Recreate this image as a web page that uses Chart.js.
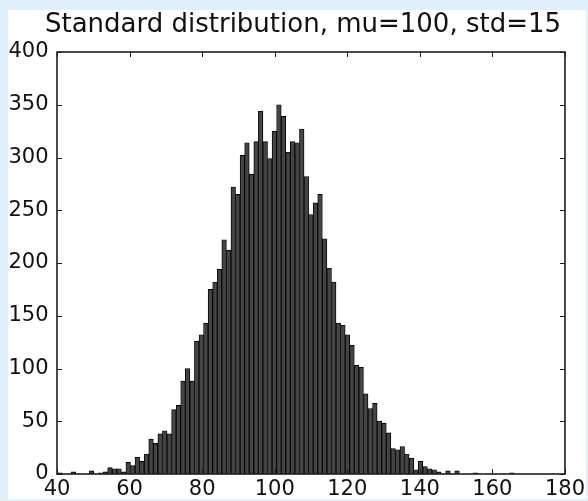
<!DOCTYPE html>
<html>
<head>
<meta charset="utf-8">
<script src="https://cdn.jsdelivr.net/npm/chart.js@4.4.1/dist/chart.umd.min.js"></script>
<style>
  html, body { margin: 0; padding: 0; background: #dff0fa; }
  canvas { display: block; }
</style>
</head>
<body>
<canvas id="hist" width="588" height="501"></canvas>
<script>
// Histogram of 10000 samples, mu=100, std=15, 100 equal bins
const titleText = 'Standard distribution, mu=100, std=15';
const histRange = [40.11, 166.0];          // lowest and highest sample
const binCounts = [
  1, 0, 0, 2, 0, 0, 0, 3, 0, 1,
  2, 6, 5, 5, 2, 11, 8, 16, 12, 19,
  33, 29, 38, 41, 38, 61, 65, 88, 100, 88,
  126, 132, 143, 175, 182, 194, 222, 212, 272, 265,
  302, 314, 284, 315, 344, 315, 299, 325, 350, 339,
  305, 315, 314, 327, 282, 246, 257, 265, 223, 195,
  182, 143, 141, 132, 122, 103, 101, 76, 62, 67,
  50, 48, 39, 24, 23, 26, 19, 15, 4, 12,
  7, 5, 4, 2, 0, 3, 0, 3, 0, 0,
  0, 1, 0, 0, 0, 0, 0, 0, 0, 1
];
const xTicks = [40, 60, 80, 100, 120, 140, 160, 180];
const yTicks = [0, 50, 100, 150, 200, 250, 300, 350, 400];

const binWidth = (histRange[1] - histRange[0]) / binCounts.length;
const points = binCounts.map((c, i) => ({ x: histRange[0] + (i + 0.5) * binWidth, y: c }));

Chart.defaults.font.family = '"DejaVu Sans", sans-serif';
Chart.defaults.color = '#111';

// white figure panel on the pale blue page
const panel = {
  id: 'panel',
  beforeDraw(chart) {
    const ctx = chart.ctx;
    ctx.save();
    ctx.fillStyle = '#dff0fa';
    ctx.fillRect(0, 0, chart.width, chart.height);
    ctx.fillStyle = '#ffffff';
    ctx.fillRect(8, 10, 578, 489);
    ctx.restore();
  }
};

// axes frame with inward ticks on all four sides, plus the title
const frame = {
  id: 'frame',
  afterDraw(chart) {
    const { ctx, chartArea: a, scales: { x, y } } = chart;
    ctx.save();
    ctx.strokeStyle = '#1e1e1e';
    ctx.lineWidth = 1;
    ctx.beginPath();
    xTicks.forEach(v => {
      const px = Math.round(x.getPixelForValue(v)) + 0.5;
      ctx.moveTo(px, a.bottom); ctx.lineTo(px, a.bottom - 5);
      ctx.moveTo(px, a.top); ctx.lineTo(px, a.top + 5);
    });
    yTicks.forEach(v => {
      const py = Math.round(y.getPixelForValue(v)) + 0.5;
      ctx.moveTo(a.left, py); ctx.lineTo(a.left + 5, py);
      ctx.moveTo(a.right, py); ctx.lineTo(a.right - 5, py);
    });
    ctx.stroke();
    ctx.lineWidth = 1.6;
    ctx.strokeRect(a.left, a.top, a.right - a.left, a.bottom - a.top);

    ctx.fillStyle = '#111';
    ctx.font = '26px "DejaVu Sans", sans-serif';
    ctx.textAlign = 'center';
    ctx.textBaseline = 'alphabetic';
    ctx.fillText(titleText, (a.left + a.right) / 2 - 8, 32);
    ctx.restore();
  }
};

new Chart(document.getElementById('hist'), {
  type: 'bar',
  data: {
    datasets: [{
      data: points,
      backgroundColor: '#444444',
      borderColor: '#000000',
      borderWidth: 0.9,
      borderSkipped: 'start',
      barPercentage: 1,
      categoryPercentage: 1
    }]
  },
  options: {
    responsive: false,
    animation: false,
    devicePixelRatio: 1,
    layout: { padding: { top: 52, right: 20, bottom: 0, left: 0 } },
    plugins: { legend: { display: false }, tooltip: { enabled: false }, title: { display: false } },
    scales: {
      x: {
        type: 'linear',
        offset: false,
        min: 40, max: 180,
        afterBuildTicks: s => { s.ticks = xTicks.map(v => ({ value: v })); },
        afterFit: s => { s.height = 27; },
        grid: { display: false, drawTicks: false },
        border: { display: false },
        ticks: { font: { size: 21 }, padding: 3, maxRotation: 0, autoSkip: false, color: '#111' }
      },
      y: {
        min: 0, max: 400,
        afterBuildTicks: s => { s.ticks = yTicks.map(v => ({ value: v })); },
        afterFit: s => { s.width = 57; },
        grid: { display: false, drawTicks: false },
        border: { display: false },
        ticks: { font: { size: 21 }, padding: 8.5, color: '#111' }
      }
    }
  },
  plugins: [panel, frame]
});
</script>
</body>
</html>
